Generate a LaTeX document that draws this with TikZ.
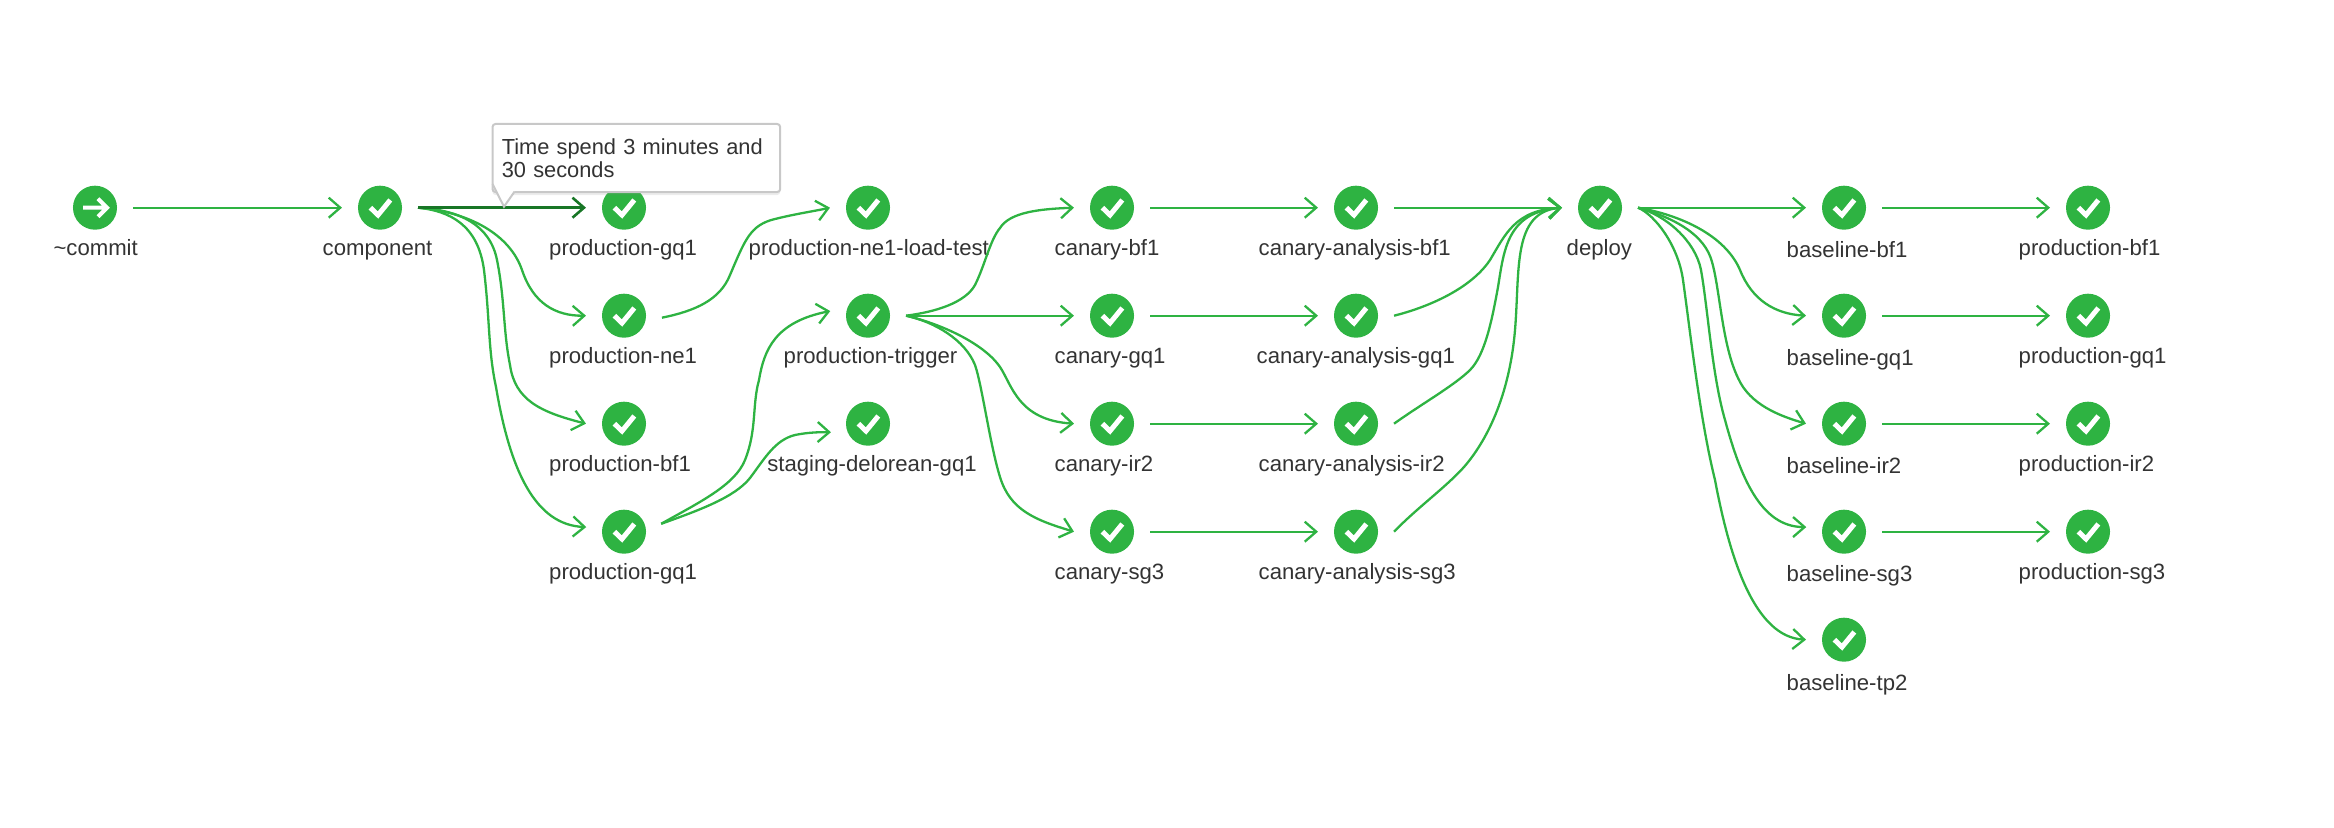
\documentclass[tikz,border=0pt]{standalone}
\usepackage{fontspec}
\usepackage{xcolor}
\usetikzlibrary{arrows.meta,shadows}
\setmainfont{Liberation Sans}
\definecolor{okgreen}{RGB}{46,179,66}
\definecolor{hovergreen}{RGB}{24,118,38}
\definecolor{labelgray}{RGB}{51,51,51}
\definecolor{tipgray}{RGB}{200,200,200}

\begin{document}
\begin{tikzpicture}[
  x=0.01cm, y=-0.01cm,
  every node/.style={font=\fontsize{6.3}{6.95}\selectfont, text=labelgray},
  stage/.style={circle, fill=okgreen, minimum size=0.44cm, inner sep=0pt, outer sep=0.16cm,
    path picture={\draw[white, line width=0.05cm, shift={(path picture bounding box.center)}] (-9.6,0) -- (-2,7.3) -- (10.3,-7.7);}},
  startstage/.style={circle, fill=okgreen, minimum size=0.44cm, inner sep=0pt, outer sep=0.16cm,
    path picture={\draw[white, line width=0.04cm, shift={(path picture bounding box.center)}] (-12,0) -- (11,0) (3,-9) -- (12,0) -- (3,9);}},
  lbl/.style={anchor=base west, inner sep=0pt},
  edge/.style={draw=okgreen, line width=0.023cm, -{Straight Barb[length=0.115cm,width=0.2cm]}},
  hoveredge/.style={draw=hovergreen, line width=0.026cm, -{Straight Barb[length=0.115cm,width=0.2cm]}},
  tipbox/.style={rectangle, draw=tipgray, line width=0.02cm, fill=white, rounded corners=0.03cm,
    anchor=north west, minimum width=2.875cm, minimum height=0.68cm, text width=2.69cm,
    inner xsep=0.092cm, inner ysep=0pt, outer sep=0pt, align=left,
    font=\fontsize{6.2}{6.95}\selectfont,
    drop shadow={shadow xshift=0pt, shadow yshift=-0.03cm, opacity=0.15}}
]
  \useasboundingbox (0,0) rectangle (2334,828);

  \node[startstage] (cm) at (95,207.7) {};
  \node[stage] (co) at (380,207.7) {};

  \node[stage] (pgt) at (624,207.7) {};
  \node[stage] (pne) at (624,315.7) {};
  \node[stage] (pbf) at (624,423.7) {};
  \node[stage] (pgb) at (624,531.7) {};

  \node[stage] (lt) at (868,207.7) {};
  \node[stage] (tr) at (868,315.7) {};
  \node[stage] (sd) at (868,423.7) {};

  \node[stage] (cbf) at (1112,207.7) {};
  \node[stage] (cgq) at (1112,315.7) {};
  \node[stage] (cir) at (1112,423.7) {};
  \node[stage] (csg) at (1112,531.7) {};

  \node[stage] (abf) at (1356,207.7) {};
  \node[stage] (agq) at (1356,315.7) {};
  \node[stage] (air) at (1356,423.7) {};
  \node[stage] (asg) at (1356,531.7) {};

  \node[stage] (de) at (1600,207.7) {};

  \node[stage] (bbf) at (1844,207.7) {};
  \node[stage] (bgq) at (1844,315.7) {};
  \node[stage] (bir) at (1844,423.7) {};
  \node[stage] (bsg) at (1844,531.7) {};
  \node[stage] (btp) at (1844,639.7) {};

  \node[stage] (fbf) at (2088,207.7) {};
  \node[stage] (fgq) at (2088,315.7) {};
  \node[stage] (fir) at (2088,423.7) {};
  \node[stage] (fsg) at (2088,531.7) {};

  \node[lbl] (lcm) at (52.8,255.7) {\textasciitilde commit};
  \node[lbl] (lco) at (322,255.7) {component};
  \node[lbl] (lpgt) at (548.5,255.7) {production-gq1};
  \node[lbl] (lpne) at (548.5,363.7) {production-ne1};
  \node[lbl] (lpbf) at (548.5,471.7) {production-bf1};
  \node[lbl] (lpgb) at (548.5,579.7) {production-gq1};
  \node[lbl] (llt) at (748,255.7) {production-ne1-load-test};
  \node[lbl] (ltr) at (783,363.7) {production-trigger};
  \node[lbl] (lsd) at (766.6,471.7) {staging-delorean-gq1};
  \node[lbl] (lcbf) at (1054,255.7) {canary-bf1};
  \node[lbl] (lcgq) at (1054,363.7) {canary-gq1};
  \node[lbl] (lcir) at (1054,471.7) {canary-ir2};
  \node[lbl] (lcsg) at (1054,579.7) {canary-sg3};
  \node[lbl] (labf) at (1258,255.7) {canary-analysis-bf1};
  \node[lbl] (lagq) at (1256,363.7) {canary-analysis-gq1};
  \node[lbl] (lair) at (1258,471.7) {canary-analysis-ir2};
  \node[lbl] (lasg) at (1258,579.7) {canary-analysis-sg3};
  \node[lbl] (lde) at (1566,255.7) {deploy};
  \node[lbl] (lbbf) at (1786,258) {baseline-bf1};
  \node[lbl] (lbgq) at (1786,366) {baseline-gq1};
  \node[lbl] (lbir) at (1786,474) {baseline-ir2};
  \node[lbl] (lbsg) at (1786,582) {baseline-sg3};
  \node[lbl] (lbtp) at (1786,690) {baseline-tp2};
  \node[lbl] (lfbf) at (2018,256) {production-bf1};
  \node[lbl] (lfgq) at (2018,364) {production-gq1};
  \node[lbl] (lfir) at (2018,472) {production-ir2};
  \node[lbl] (lfsg) at (2018,580) {production-sg3};

  \draw[edge] (cm) -- (co);
  \draw[edge] (co.east) .. controls (470,212) and (510,235) .. (522,270) .. controls (533,303) and (555,316) .. (pne.west);
  \draw[edge] (co.east) .. controls (460,210) and (490,225) .. (497,260) .. controls (505,300) and (503,330) .. (510,365) .. controls (515,400) and (540,412) .. (pbf.west);
  \draw[edge] (co.east) .. controls (450,211) and (478,225) .. (484,270) .. controls (490,320) and (488,350) .. (496,387) .. controls (510,470) and (535,525) .. (pgb.173);
  \draw[hoveredge] (co.east) -- (pgt.west);

  \draw[edge] (pne.-3) .. controls (695,311) and (720,300) .. (730,275) .. controls (745,240) and (750,225) .. (775,219) .. controls (795,214) and (815,211) .. (lt.west);
  \draw[edge] (pgb.12) .. controls (700,502) and (735,485) .. (745,460) .. controls (757,430) and (752,405) .. (759,380) .. controls (764,350) and (775,322) .. (tr.173);
  \draw[edge] (pgb.12) .. controls (700,510) and (735,497) .. (750,478) .. controls (765,458) and (775,440) .. (795,435) .. controls (805,433) and (815,432) .. (sd.193);

  \draw[edge] (tr.east) .. controls (935,312) and (965,303) .. (975,285) .. controls (985,265) and (990,240) .. (1000,228) .. controls (1010,212) and (1040,209) .. (cbf.west);
  \draw[edge] (tr) -- (cgq);
  \draw[edge] (tr.east) .. controls (945,325) and (985,345) .. (1000,367) .. controls (1012,385) and (1018,420) .. (cir.west);
  \draw[edge] (tr.east) .. controls (935,322) and (965,340) .. (975,365) .. controls (982,385) and (990,445) .. (1000,477) .. controls (1010,510) and (1035,520) .. (csg.west);

  \draw[edge] (cbf) -- (abf);
  \draw[edge] (cgq) -- (agq);
  \draw[edge] (cir) -- (air);
  \draw[edge] (csg) -- (asg);

  \draw[edge] (abf) -- (de);
  \draw[edge] (agq.east) .. controls (1425,308) and (1470,290) .. (1490,260) .. controls (1505,235) and (1515,210) .. (de.west);
  \draw[edge] (air.east) .. controls (1420,405) and (1455,385) .. (1470,370) .. controls (1485,355) and (1492,320) .. (1498,287) .. controls (1504,250) and (1507,212) .. (de.west);
  \draw[edge] (asg.east) .. controls (1418,507) and (1445,488) .. (1464,467) .. controls (1490,437) and (1510,390) .. (1515,330) .. controls (1520,270) and (1512,212) .. (de.west);

  \draw[edge] (de) -- (bbf);
  \draw[edge] (de.east) .. controls (1680,215) and (1725,235) .. (1740,270) .. controls (1752,300) and (1775,314) .. (bgq.west);
  \draw[edge] (de.east) .. controls (1675,218) and (1705,235) .. (1712,262) .. controls (1720,290) and (1722,345) .. (1738,378) .. controls (1750,405) and (1780,416) .. (bir.west);
  \draw[edge] (de.east) .. controls (1665,215) and (1695,240) .. (1701,270) .. controls (1708,310) and (1712,375) .. (1725,420) .. controls (1740,475) and (1760,527) .. (bsg.173);
  \draw[edge] (de.east) .. controls (1655,215) and (1678,245) .. (1683,280) .. controls (1690,330) and (1700,420) .. (1715,480) .. controls (1730,560) and (1755,637) .. (btp.west);

  \draw[edge] (bbf) -- (fbf);
  \draw[edge] (bgq) -- (fgq);
  \draw[edge] (bir) -- (fir);
  \draw[edge] (bsg) -- (fsg);

  \node[tipbox] (tip) at (492.5,124) {\raisebox{-0.015cm}{Time spend 3 minutes and}\\30 seconds};
  \coordinate (tipend) at (504,206.7);
  \fill[white] (493.5,184) -- (tipend) -- (514.5,191) -- cycle;
  \draw[tipgray, line width=0.02cm] (492.5,184) -- (tipend) -- (514.5,191.7);
\end{tikzpicture}
\end{document}
